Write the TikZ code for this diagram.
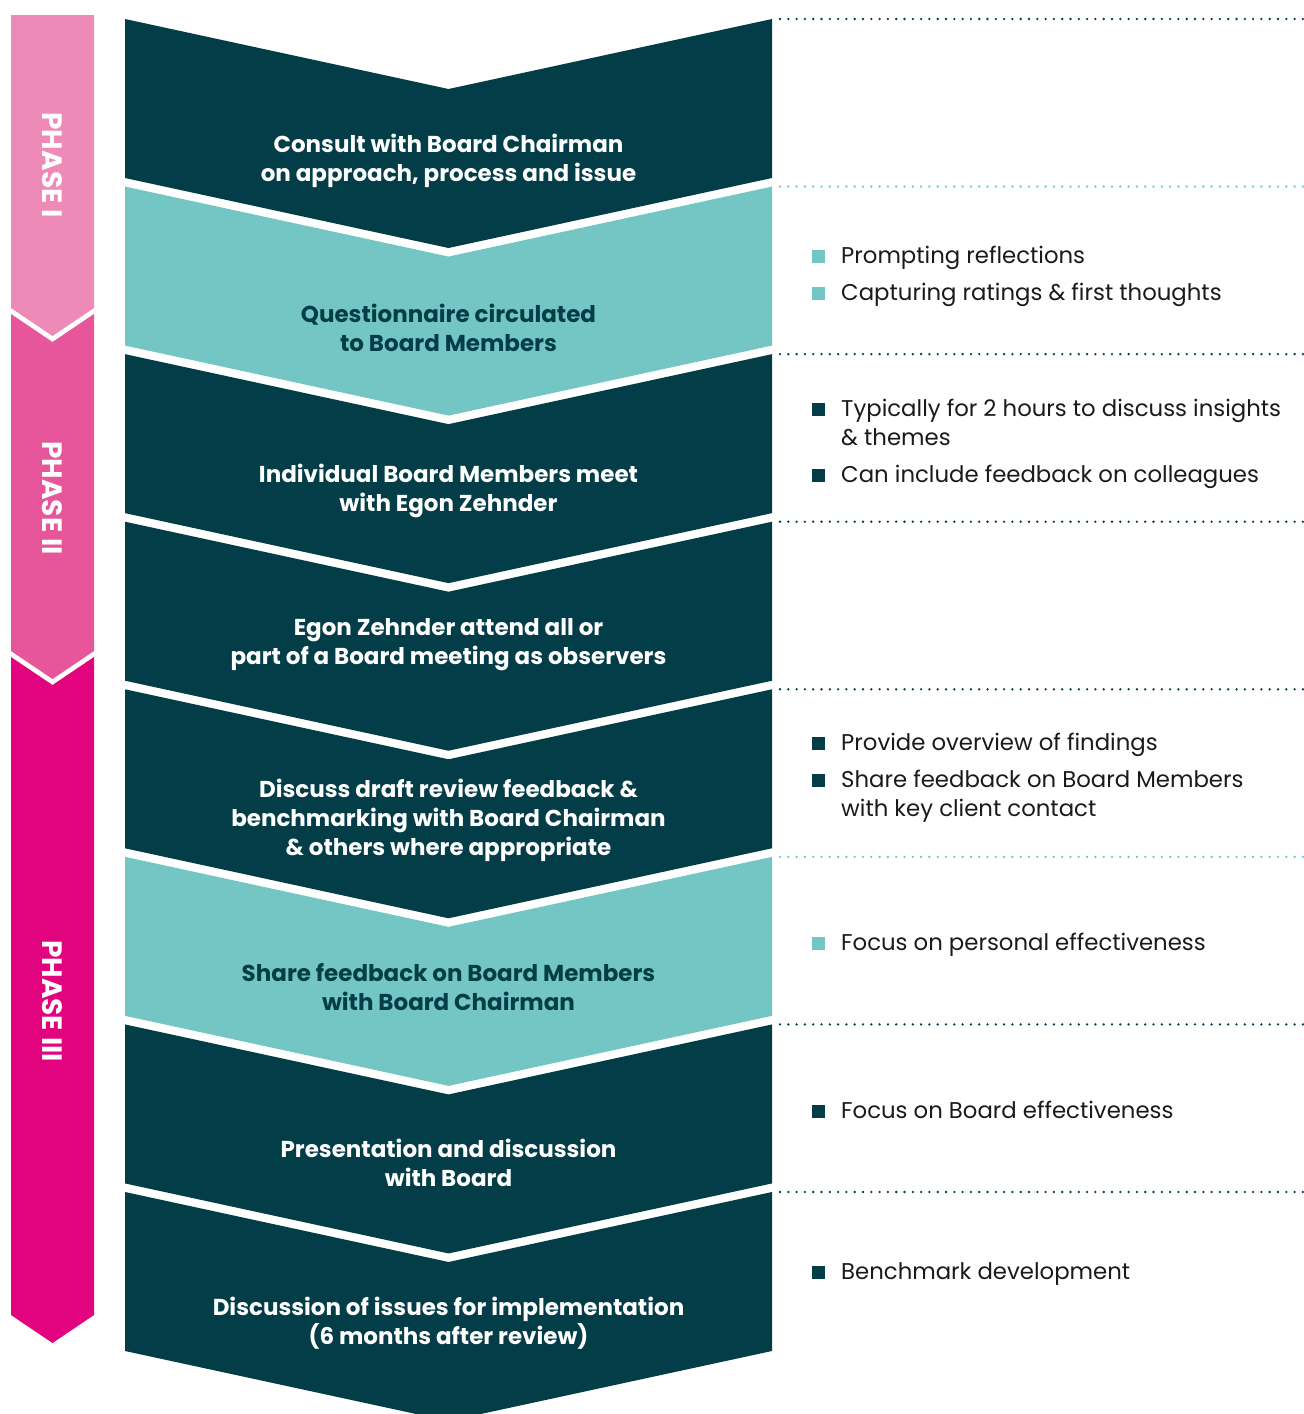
\documentclass[tikz,border=0pt]{standalone}
\usepackage{fontspec}
\setmainfont{Poppins}
\usetikzlibrary{positioning}

\definecolor{evaldark}{HTML}{033D48}
\definecolor{evalteal}{HTML}{73C6C3}
\definecolor{phaseone}{HTML}{EE8AB7}
\definecolor{phasetwo}{HTML}{E7559A}
\definecolor{phasethree}{HTML}{E2037F}
\definecolor{notegrey}{HTML}{1A1A1A}

\begin{document}
\begin{tikzpicture}[x=1pt,y=-1pt,
  steptext/.style={font=\fontsize{23}{29}\selectfont\bfseries,align=center,text=white},
  phasetext/.style={font=\fontsize{28}{30}\selectfont\bfseries,text=white,rotate=-90},
  notetext/.style={font=\fontsize{22.8}{29}\selectfont,text=notegrey,align=left,anchor=base west,inner sep=0pt},
  bulletsq/.style={minimum size=13pt,inner sep=0pt}]
\useasboundingbox (0,0) rectangle (1304,1414);

% phase bar
\fill[phaseone] (11,15) -- (94,15) -- (94,308) -- (52.5,336) -- (11,308) -- cycle;
\fill[phasetwo] (11,314) -- (52.5,342) -- (94,314) -- (94,651) -- (52.5,679) -- (11,651) -- cycle;
\fill[phasethree] (11,657) -- (52.5,685) -- (94,657) -- (94,1315) -- (52.5,1343) -- (11,1315) -- cycle;
\node[phasetext] (p1) at (52.5,165) {PHASE I};
\node[phasetext] (p2) at (52.5,498) {PHASE II};
\node[phasetext] (p3) at (52.5,1001) {PHASE III};

% chevrons + dotted rules
\foreach \i/\col in {0/evaldark,1/evalteal,2/evaldark,3/evaldark,4/evaldark,5/evalteal,6/evaldark,7/evaldark} {
  \pgfmathsetmacro\yt{19+167.57*\i}
  \fill[\col] (125,\yt) -- (448.5,{\yt+70}) -- (772,\yt) -- (772,{\yt+159})
    -- (448.5,{\yt+229}) -- (125,{\yt+159}) -- cycle;
  \draw[\col,line width=2.6pt,line cap=round,dash pattern=on 0pt off 8.3pt] (780,\yt) -- (1304,\yt);
}

% step texts
\node[steptext] (s1) at (448.5,161) {Consult with Board Chairman\\on approach, process and issue};
\node[steptext,text=evaldark] (s2) at (448.5,328) {Questionnaire circulated\\to Board Members};
\node[steptext] (s3) at (448.5,491) {Individual Board Members meet\\with Egon Zehnder};
\node[steptext] (s4) at (448.5,645) {Egon Zehnder attend all or\\part of a Board meeting as observers};
\node[steptext] (s5) at (448.5,820) {Discuss draft review feedback \&\\benchmarking with Board Chairman\\\& others where appropriate};
\node[steptext,text=evaldark] (s6) at (448.5,987) {Share feedback on Board Members\\with Board Chairman};
\node[steptext] (s7) at (448.5,1163) {Presentation and discussion\\with Board};
\node[steptext] (s8) at (448.5,1323) {Discussion of issues for implementation\\(6 months after review)};

% notes
\foreach \nm/\y/\col in {b2a/256/evalteal,b2b/293/evalteal,b3a/409/evaldark,b3b/475/evaldark,
    b5a/743/evaldark,b5b/780/evaldark,b6a/943/evalteal,b7a/1111/evaldark,b8a/1272/evaldark}
  \node[bulletsq,fill=\col] (\nm) at (818,\y) {};
\node[notetext] (n2a) at (841,263) {Prompting reflections};
\node[notetext] (n2b) at (841,300) {Capturing ratings \& first thoughts};
\node[notetext] (n3a) at (841,445) {Typically for 2 hours to discuss insights\\\& themes};
\node[notetext] (n3b) at (841,482) {Can include feedback on colleagues};
\node[notetext] (n5a) at (841,750) {Provide overview of findings};
\node[notetext] (n5b) at (841,816) {Share feedback on Board Members\\with key client contact};
\node[notetext] (n6a) at (841,950) {Focus on personal effectiveness};
\node[notetext] (n7a) at (841,1118) {Focus on Board effectiveness};
\node[notetext] (n8a) at (841,1279) {Benchmark development};
\end{tikzpicture}
\end{document}
